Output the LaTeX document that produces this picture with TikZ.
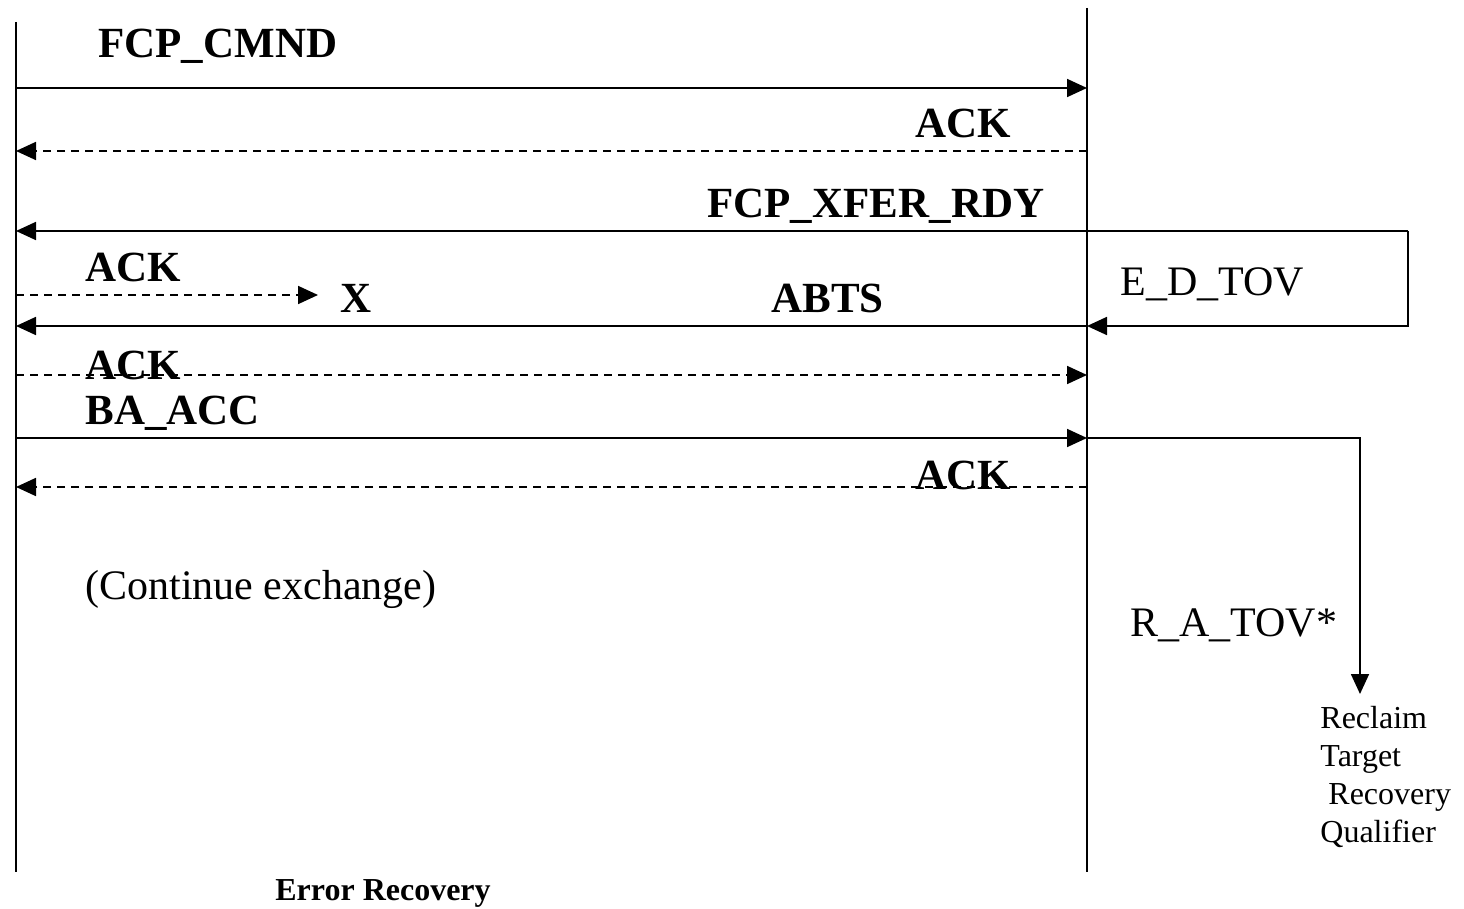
\documentclass[tikz,border=0pt]{standalone}
\usepackage{fontspec}
\setmainfont{Liberation Serif}
\usetikzlibrary{arrows.meta,positioning}
\tikzset{
  msg/.style={-{Triangle[length=10pt,width=9pt]}, line width=.9pt},
  ackmsg/.style={msg, dash pattern=on 4pt off 3pt},
  life/.style={line width=.9pt},
  lbl/.style={anchor=base west, inner sep=0pt, font=\fontsize{21.5}{25}\selectfont\bfseries},
  timer/.style={anchor=base west, inner sep=0pt, font=\fontsize{21}{25}\selectfont},
  note/.style={anchor=base west, inner sep=0pt, align=left, font=\fontsize{16}{19}\selectfont}
}
\begin{document}
\begin{tikzpicture}[x=0.5pt, y=-0.5pt]
  \useasboundingbox (0,0) rectangle (1464,909);
  % lifelines
  \coordinate (ini-top) at (16,22);
  \coordinate (ini-bot) at (16,872);
  \coordinate (tgt-top) at (1087,8);
  \coordinate (tgt-bot) at (1087,872);
  \draw[life] (ini-top) -- (ini-bot);
  \draw[life] (tgt-top) -- (tgt-bot);
  % message end points
  \coordinate (cmnd-i) at (16,88);   \coordinate (cmnd-t) at (1087,88);
  \coordinate (ack1-i) at (16,151);  \coordinate (ack1-t) at (1087,151);
  \coordinate (xfer-i) at (16,231);  \coordinate (xfer-r) at (1408,231);
  \coordinate (ack2-i) at (16,295);  \coordinate (ack2-x) at (318,295);
  \coordinate (abts-i) at (16,326);  \coordinate (abts-t) at (1087,326);
  \coordinate (edtov-r) at (1408,326);
  \coordinate (ack3-i) at (16,375);  \coordinate (ack3-t) at (1087,375);
  \coordinate (acc-i) at (16,438);   \coordinate (acc-t) at (1087,438);
  \coordinate (ratov-c) at (1360,438); \coordinate (ratov-e) at (1360,694);
  \coordinate (ack4-i) at (16,487);  \coordinate (ack4-t) at (1087,487);
  % labels
  \node[lbl] (cmnd) at (98,58) {FCP\_CMND};
  \node[lbl] (ack1) at (915,138) {ACK};
  \node[lbl] (xfer) at (707,218) {FCP\_XFER\_RDY};
  \node[lbl] (ack2) at (85,282) {ACK};
  \node[lbl] (lost) at (340,313) {X};
  \node[lbl] (abts) at (771,313) {ABTS};
  \node[timer] (edtov) at (1120,296) {E\_D\_TOV};
  \node[lbl] (ack3) at (85,380) {ACK};
  \node[lbl] (acc) at (85,425) {BA\_ACC};
  \node[lbl] (ack4) at (915,490) {ACK};
  \node[timer] (cont) at (85,600) {(Continue exchange)};
  \node[timer] (ratov) at (1130,637) {R\_A\_TOV*};
  \node[note] (reclaim) at (1320,842) {Reclaim\\Target\\\ Recovery\\Qualifier};
  \node[anchor=base west, inner sep=0pt, font=\fontsize{16}{19}\selectfont\bfseries] (caption) at (275,900) {Error Recovery};
  % messages
  \draw[msg] (cmnd-i) -- (cmnd-t);
  \draw[ackmsg] (ack1-t) -- (ack1-i);
  \draw[msg] (xfer-r) -- (xfer-i);
  \draw[ackmsg] (ack2-i) -- (ack2-x);
  \draw[msg] (xfer-r) -- (edtov-r) -- (abts-t);
  \draw[msg] (abts-t) -- (abts-i);
  \draw[ackmsg] (ack3-i) -- (ack3-t);
  \draw[msg] (acc-i) -- (acc-t);
  \draw[msg] (acc-t) -- (ratov-c) -- (ratov-e);
  \draw[ackmsg] (ack4-t) -- (ack4-i);
\end{tikzpicture}
\end{document}
